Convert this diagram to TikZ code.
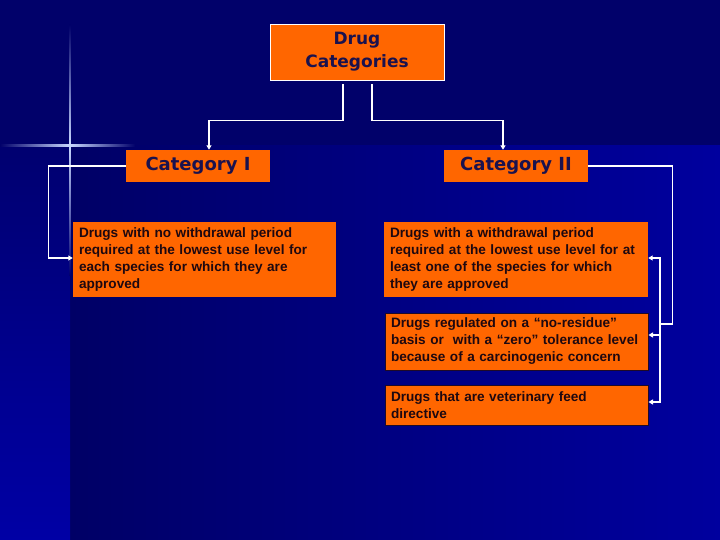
\documentclass[tikz,border=0pt]{standalone}
\usepackage{fontspec}
\setmainfont{Liberation Sans}
\newfontfamily\headfont{DejaVu Sans}
\usetikzlibrary{arrows.meta}
\definecolor{bgtop}{RGB}{1,1,106}
\definecolor{bglowl}{RGB}{0,0,102}
\definecolor{bglowr}{RGB}{0,0,158}
\definecolor{stript}{RGB}{0,0,112}
\definecolor{stripb}{RGB}{0,0,165}
\definecolor{flare}{RGB}{200,215,255}
\definecolor{orng}{RGB}{255,102,0}
\definecolor{headtxt}{RGB}{26,18,78}
\definecolor{bodytxt}{RGB}{30,8,16}
\definecolor{shadowc}{RGB}{30,10,40}
\tikzset{
  headbox/.style={fill=orng, inner sep=0pt, align=center, text=headtxt,
    font=\headfont\bfseries\fontsize{18}{23}\selectfont},
  bodybox/.style={fill=orng, inner sep=0pt, align=left, text=bodytxt,
    font=\bfseries\fontsize{13.6}{17}\selectfont},
  shadowed/.style={draw=shadowc, line width=1pt},
  conn/.style={draw=white, line width=1.1pt},
  arr/.style={conn, -{Triangle[length=4.5pt,width=5pt]}},
}
\begin{document}
\begin{tikzpicture}[x=1pt,y=-1pt]
\useasboundingbox (0,0) rectangle (720,540);
% background
\fill[bgtop] (0,0) rectangle (720,146);
\shade[left color=bglowl, right color=bglowr] (70,146) rectangle (720,540);
\shade[top color=stript, bottom color=stripb] (0,146) rectangle (70,540);
% flare
\shade[left color=bgtop, right color=flare] (0,144.3) rectangle (70,146.2);
\shade[left color=flare, right color=bgtop] (70,144.3) rectangle (135,146.2);
\shade[top color=bgtop, bottom color=flare] (69.2,25) rectangle (70.8,145);
\shade[top color=flare, bottom color=stript] (69.2,145) rectangle (70.8,275);
% nodes
\node[headbox, draw=white, line width=0.8pt, minimum width=174pt, minimum height=56pt,
  font=\headfont\bfseries\fontsize{17}{23}\selectfont] (root) at (357,52) {Drug\\Categories};
\node[headbox, minimum width=144pt, minimum height=32pt] (c1) at (198,166) {Category I};
\node[headbox, minimum width=144pt, minimum height=32pt] (c2) at (516,166) {Category II};
\node[bodybox, minimum width=263pt, minimum height=75pt, text width=251pt] (l1) at (204.5,259.5)
  {Drugs with no withdrawal period\\required at the lowest use level for\\each species for which they are\\approved};
\node[bodybox, minimum width=264pt, minimum height=75pt, text width=252pt] (r1) at (516,259.5)
  {Drugs with a withdrawal period\\required at the lowest use level for at\\least one of the species for which\\they are approved};
\node[bodybox, shadowed, minimum width=263pt, minimum height=57pt, text width=251pt] (r2) at (516.5,341.5)
  {Drugs regulated on a “no-residue”\\basis or\ \ with a “zero” tolerance level\\because of a carcinogenic concern};
\node[bodybox, shadowed, minimum width=263pt, minimum height=40pt, text width=251pt] (r3) at (516.5,405)
  {Drugs that are veterinary feed\\directive};
% connectors
\draw[arr] ([xshift=-14pt,yshift=-4pt]root.south) -- ++(0,36) -| ([xshift=11pt]c1.north);
\draw[arr] ([xshift=15pt,yshift=-4pt]root.south) -- ++(0,36) -| ([xshift=-13pt]c2.north);
\draw[arr] (c1.west) -- ++(-77,0) |- ([yshift=1.5pt]l1.west);
\coordinate (bus) at (660,324);
\draw[conn] (c2.east) -- ++(84,0) |- (bus);
\draw[arr] (bus) |- ([yshift=1.5pt]r1.east);
\draw[arr] (bus) |- ([yshift=6.5pt]r2.east);
\draw[arr] (bus) |- ([yshift=3pt]r3.east);
\end{tikzpicture}
\end{document}
